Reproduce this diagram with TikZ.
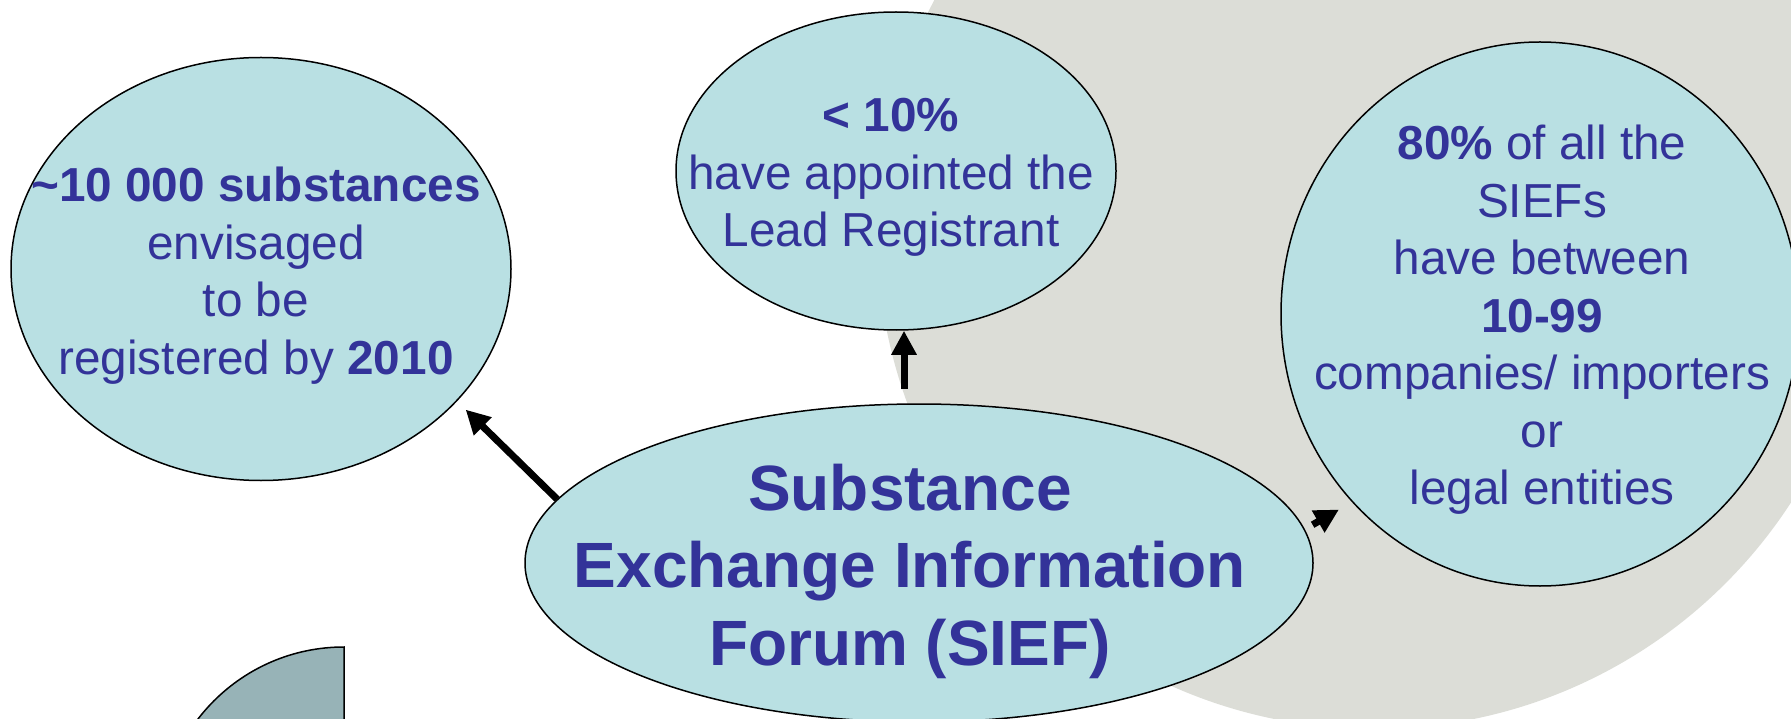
\documentclass[tikz,border=0pt]{standalone}
\usepackage{fontspec}
\setmainfont{Liberation Sans}
\usetikzlibrary{arrows.meta,shapes.geometric}
\definecolor{bubblefill}{RGB}{185,224,227}
\definecolor{txtblue}{RGB}{51,51,153}
\definecolor{greybg}{RGB}{220,221,215}
\definecolor{quartfill}{RGB}{151,179,183}
\begin{document}
\begin{tikzpicture}[x=1pt,y=-1pt,
  bubble/.style={ellipse, draw=black, line width=1.5pt, fill=bubblefill, inner sep=0pt},
  smalltext/.style={text=txtblue, anchor=base, inner sep=0pt, font=\fontsize{47.7}{57.5}\selectfont},
  bigtext/.style={text=txtblue, anchor=base, inner sep=0pt, font=\fontsize{64}{77.5}\selectfont\bfseries},
  arr/.style={line width=7pt, -{Triangle[length=24pt,width=24pt]}}]
\useasboundingbox (0,0) rectangle (1791,719);
\clip (0,0) rectangle (1791,719);
% background shapes
\fill[greybg] (1374,232) circle[radius=497];
\draw[fill=quartfill, line width=1.5pt] (344,831) -- (344,647) arc[start angle=-90, end angle=-180, radius=184] -- cycle;
% bubbles
\node[bubble, minimum width=500pt, minimum height=423pt] (left) at (261,269) {};
\node[bubble, minimum width=440pt, minimum height=318pt] (top) at (896,171) {};
\node[bubble, minimum width=518pt, minimum height=544pt] (right) at (1540,314) {};
\node[bubble, minimum width=788pt, minimum height=318pt] (sief) at (919,563) {};
% texts
\node[smalltext] (lefttext) at (256,202) {\begin{tabular}[t]{@{}c@{}}\textbf{\textasciitilde10 000 substances}\\ envisaged\\ to be\\ registered by \textbf{2010}\end{tabular}};
\node[smalltext] (toptext) at (891,132) {\begin{tabular}[t]{@{}c@{}}\textbf{< 10\%}\\ have appointed the\\ Lead Registrant\end{tabular}};
\node[smalltext] (righttext) at (1542,160) {\begin{tabular}[t]{@{}c@{}}\textbf{80\%} of all the\\ SIEFs\\ have between\\ \textbf{10-99}\\ companies/ importers\\ or\\ legal entities\end{tabular}};
\node[bigtext] (sieftext) at (910,510) {\begin{tabular}[t]{@{}c@{}}Substance\\ Exchange Information\\ Forum (SIEF)\end{tabular}};
% arrows
\draw[arr, shorten >=12pt] (sief.170) -- (left.-34);
\draw[arr, shorten <=14pt] ([xshift=-15pt]sief.north) -- ([xshift=8pt]top.south);
\draw[arr, shorten <=9pt, shorten >=15pt] (sief.5) -- (right.225);
\end{tikzpicture}
\end{document}
